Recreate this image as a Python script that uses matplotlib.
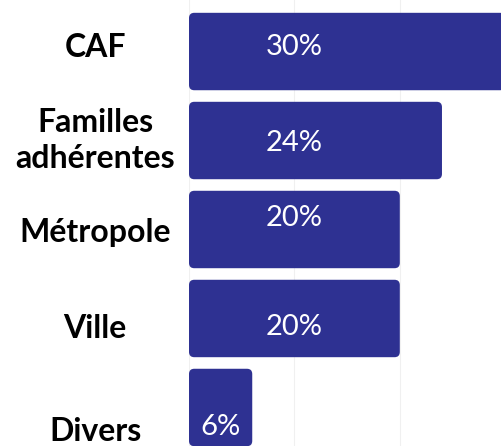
import matplotlib
matplotlib.use("Agg")
import matplotlib.pyplot as plt
from matplotlib.patches import FancyBboxPatch
import matplotlib.transforms as mtransforms

# données
categories = ["CAF", "Familles\nadhérentes", "Métropole", "Ville", "Divers"]
values = [30, 24, 20, 20, 6]
value_labels = ["30%", "24%", "20%", "20%", "6%"]

# décalages verticaux des textes (points), comme sur l'original
cat_dy = [-3, 0, 2, 7, 17]
val_dy = [-3, 2, -8, 6, 14]

bar_color = "#2E3192"

plt.rcParams["font.family"] = ["Lato", "DejaVu Sans"]

fig = plt.figure(figsize=(5.01, 4.46), dpi=100)
ax = fig.add_axes([189 / 501, 0, 1 - 189 / 501, 1])

y = list(range(len(categories)))
bars = ax.barh(y, values, height=0.87, color=bar_color)

ax.set_xlim(0, 29.6)
ax.set_ylim(4.433, -0.579)

# coins arrondis : on remplace chaque barre par un FancyBboxPatch
px_x = 312 / 29.6
px_y = 446 / (4.433 + 0.579)
for b in bars:
    x0, y0 = b.get_x(), b.get_y()
    w, h = b.get_width(), b.get_height()
    b.set_visible(False)
    patch = FancyBboxPatch((x0, y0), w, h,
                           boxstyle="round,pad=0,rounding_size=0.5",
                           mutation_aspect=px_x / px_y,
                           fc=bar_color, ec="none", zorder=2)
    ax.add_patch(patch)

ax.set_xticks([0, 10, 20])
ax.grid(axis="x", color="#f0f0f0", linewidth=0.8, zorder=0)
ax.set_axisbelow(True)
ax.tick_params(left=False, bottom=False, labelleft=False, labelbottom=False)
for s in ax.spines.values():
    s.set_visible(False)

trans = mtransforms.blended_transform_factory(ax.transAxes, ax.transData)
for i, cat in enumerate(categories):
    ax.annotate(cat, (-94 / 312, i), xycoords=trans,
                xytext=(0, -cat_dy[i]), textcoords="offset points",
                ha="center", va="center", fontsize=23, fontweight="bold",
                color="black", linespacing=1.3)

for i, (v, lab) in enumerate(zip(values, value_labels)):
    ax.annotate(lab, (min(v / 2, 10), i),
                xytext=(0, -val_dy[i]), textcoords="offset points",
                ha="center", va="center", fontsize=21, color="white")

fig.savefig("out.png", dpi=100)
